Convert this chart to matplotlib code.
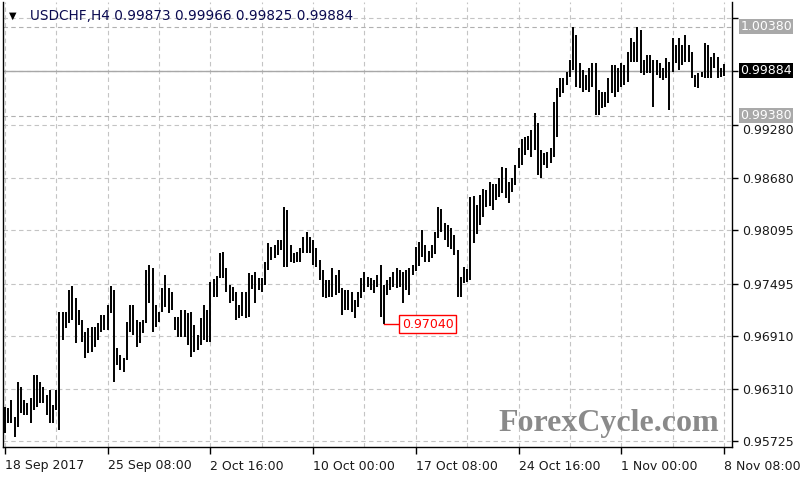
import matplotlib
matplotlib.use('Agg')
import matplotlib.pyplot as plt
import matplotlib.transforms as mtransforms

symbol = 'USDCHF,H4'
last_ohlc = [0.99873, 0.99966, 0.99825, 0.99884]

# H4 bar highs/lows, 18 Sep 2017 00:00 -> 8 Nov 2017 08:00
highs = [
    0.96107, 0.96096, 0.96186, 0.95995, 0.96388, 0.96332, 0.96186, 0.96152, 0.96208, 0.96467,
    0.96467, 0.96388, 0.96332, 0.96242, 0.96298, 0.96130, 0.96298, 0.97175, 0.97175, 0.97175,
    0.97422, 0.97467, 0.97332, 0.97197, 0.97085, 0.96950, 0.96995, 0.97006, 0.97006, 0.97051,
    0.97141, 0.97141, 0.97254, 0.97467, 0.97422, 0.96770, 0.96692, 0.96658, 0.97063, 0.97254,
    0.97254, 0.97085, 0.97063, 0.97085, 0.97647, 0.97703, 0.97670, 0.97254, 0.97175, 0.97445,
    0.97591, 0.97445, 0.97400, 0.97119, 0.97119, 0.97197, 0.97197, 0.97164, 0.97175, 0.97029,
    0.96916, 0.97108, 0.97254, 0.97197, 0.97512, 0.97546, 0.97580, 0.97838, 0.97849, 0.97670,
    0.97478, 0.97456, 0.97400, 0.97254, 0.97400, 0.97400, 0.97613, 0.97591, 0.97625, 0.97557,
    0.97557, 0.97737, 0.97951, 0.97906, 0.97928, 0.97984, 0.97984, 0.98355, 0.98321, 0.97928,
    0.97838, 0.97849, 0.97894, 0.98018, 0.98074, 0.98018, 0.97984, 0.97894, 0.97759, 0.97647,
    0.97535, 0.97535, 0.97670, 0.97591, 0.97647, 0.97445, 0.97422, 0.97422, 0.97400, 0.97310,
    0.97400, 0.97557, 0.97625, 0.97568, 0.97557, 0.97535, 0.97591, 0.97703, 0.97478, 0.97535,
    0.97568, 0.97625, 0.97670, 0.97647, 0.97625, 0.97647, 0.97670, 0.97703, 0.97906, 0.97962,
    0.98097, 0.97928, 0.97861, 0.97928, 0.98074, 0.98355, 0.98333, 0.98175, 0.98153, 0.98119,
    0.98040, 0.97872, 0.97568, 0.97681, 0.97658, 0.98468, 0.98479, 0.98378, 0.98490, 0.98558,
    0.98546, 0.98636, 0.98614, 0.98614, 0.98681, 0.98805, 0.98794, 0.98636, 0.98681, 0.98827,
    0.99018, 0.99120, 0.99142, 0.99153, 0.99221, 0.99412, 0.99299, 0.98996, 0.98962, 0.98973,
    0.99018, 0.99535, 0.99693, 0.99805, 0.99805, 0.99873, 1.00007, 1.00380, 1.00288, 0.99974,
    0.99895, 0.99839, 0.99918, 0.99974, 0.99974, 0.99670, 0.99648, 0.99648, 0.99805, 0.99951,
    0.99951, 0.99918, 0.99974, 0.99951, 1.00097, 1.00255, 1.00210, 1.00380, 1.00345, 1.00007,
    1.00064, 1.00064, 1.00007, 1.00007, 0.99974, 0.99918, 1.00030, 0.99985, 1.00255, 1.00176,
    1.00255, 1.00176, 1.00288, 1.00176, 1.00097, 0.99839, 0.99861, 0.99873, 1.00199, 1.00176,
    1.00041, 1.00086, 1.00041, 0.99918, 0.99966,
]
lows = [
    0.95815, 0.95927, 0.95927, 0.95770, 0.95882, 0.96040, 0.96017, 0.96017, 0.95927, 0.96073,
    0.96107, 0.96152, 0.96152, 0.96017, 0.95927, 0.95927, 0.96073, 0.95849, 0.96860, 0.96995,
    0.97051, 0.97085, 0.96827, 0.97029, 0.96838, 0.96658, 0.96714, 0.96725, 0.96782, 0.96860,
    0.96950, 0.96973, 0.96973, 0.97164, 0.96388, 0.96579, 0.96523, 0.96501, 0.96635, 0.96950,
    0.96916, 0.96782, 0.96827, 0.96939, 0.97051, 0.97276, 0.96950, 0.97006, 0.97063, 0.97175,
    0.97231, 0.97164, 0.97197, 0.96973, 0.96894, 0.96894, 0.96894, 0.96804, 0.96669, 0.96725,
    0.96748, 0.96804, 0.96860, 0.96838, 0.96838, 0.97344, 0.97344, 0.97557, 0.97557, 0.97400,
    0.97276, 0.97299, 0.97085, 0.97108, 0.97130, 0.97108, 0.97119, 0.97434, 0.97276, 0.97422,
    0.97400, 0.97478, 0.97647, 0.97759, 0.97782, 0.97816, 0.97872, 0.97681, 0.97681, 0.97737,
    0.97726, 0.97737, 0.97737, 0.97838, 0.97838, 0.97838, 0.97703, 0.97681, 0.97535, 0.97344,
    0.97332, 0.97344, 0.97344, 0.97366, 0.97389, 0.97141, 0.97197, 0.97197, 0.97175, 0.97108,
    0.97231, 0.97332, 0.97400, 0.97456, 0.97422, 0.97389, 0.97456, 0.97119, 0.97040, 0.97366,
    0.97422, 0.97456, 0.97445, 0.97456, 0.97276, 0.97422, 0.97366, 0.97591, 0.97636, 0.97692,
    0.97793, 0.97737, 0.97737, 0.97782, 0.97827, 0.98007, 0.98074, 0.97984, 0.97906, 0.97883,
    0.97816, 0.97344, 0.97344, 0.97501, 0.97512, 0.97535, 0.97951, 0.98052, 0.98153, 0.98243,
    0.98355, 0.98366, 0.98321, 0.98434, 0.98468, 0.98513, 0.98456, 0.98400, 0.98524, 0.98602,
    0.98794, 0.98827, 0.98940, 0.98996, 0.98917, 0.98996, 0.98715, 0.98681, 0.98827, 0.98794,
    0.98850, 0.98917, 0.99142, 0.99592, 0.99637, 0.99726, 0.99816, 0.99895, 0.99704, 0.99693,
    0.99648, 0.99670, 0.99648, 0.99704, 0.99389, 0.99389, 0.99468, 0.99479, 0.99524, 0.99637,
    0.99592, 0.99648, 0.99704, 0.99726, 0.99760, 0.99985, 0.99985, 0.99985, 0.99861, 0.99839,
    0.99861, 0.99861, 0.99479, 0.99839, 0.99805, 0.99783, 0.99805, 0.99445, 0.99873, 0.99974,
    0.99895, 0.99951, 0.99985, 0.99985, 0.99805, 0.99704, 0.99693, 0.99816, 0.99805, 0.99805,
    0.99805, 0.99918, 0.99805, 0.99816, 0.99825,
]

date_ticks = [0, 32, 64, 96, 128, 160, 192, 224]
date_labels = ['18 Sep 2017', '25 Sep 08:00', '2 Oct 16:00', '10 Oct 00:00',
               '17 Oct 08:00', '24 Oct 16:00', '1 Nov 00:00', '8 Nov 08:00']
price_ticks = [0.95725, 0.96310, 0.96910, 0.97495, 0.98095, 0.98680, 0.99280, 0.99880, 1.00475]
# last two sit under the price boxes on the right, so they are left blank
price_labels = ['0.95725', '0.96310', '0.96910', '0.97495', '0.98095', '0.98680',
                '0.99280', '', '']

resistance = 1.00380
support = 0.99380
last_price = 0.99884
low_bar = 118
low_price = 0.97040

fig = plt.figure(figsize=(8, 4.8), dpi=100)
ax = fig.add_axes([3 / 800, 33 / 480, 729 / 800, 445 / 480])

ax.set_xlim(-0.6, 226.5)
ax.set_ylim(0.95658, 1.00659)

# grid
ax.set_xticks(range(0, 225, 16), minor=True)
ax.set_xticks(date_ticks)
ax.set_xticklabels(date_labels)
ax.set_yticks(price_ticks)
ax.set_yticklabels(price_labels)
ax.grid(True, which='both', color='#c4c4c4', linestyle=(0, (4, 3)), lw=0.8)
ax.set_axisbelow(True)

ax.tick_params(axis='x', which='major', length=5, width=1, pad=4, labelsize=9,
               labelcolor='#1a1a1a')
ax.tick_params(axis='x', which='minor', length=0)
ax.tick_params(axis='y', length=4, width=1, pad=3, labelsize=9, labelcolor='#1a1a1a',
               left=False, labelleft=False, right=True, labelright=True)
for lbl in ax.get_xticklabels():
    lbl.set_ha('left')
# 0.99280 sits just under the support box, nudge it down a little
shift = mtransforms.ScaledTranslation(0, -3 / 72, fig.dpi_scale_trans)
ylbl = ax.get_yticklabels(which='major')[6]
ylbl.set_transform(ylbl.get_transform() + shift)
for sp in ax.spines.values():
    sp.set_linewidth(1)
    sp.set_color('black')
ax.spines['top'].set_visible(False)

# level lines
ax.axhline(resistance, color='#b0b0b0', linestyle=(0, (4, 3)), lw=0.8, zorder=1)
ax.axhline(support, color='#b0b0b0', linestyle=(0, (4, 3)), lw=0.8, zorder=1)
ax.axhline(last_price, color='#a8a8a8', lw=1, zorder=1)

# bars
ax.vlines(range(len(highs)), lows, highs, color='black', lw=1.4, zorder=3)

# low marker
ax.plot([low_bar, 123.2], [low_price, low_price], color='red', lw=1, zorder=4)
ax.text(123.6, low_price, '%.5f' % low_price, color='red', fontsize=9, va='center', ha='left',
        zorder=5, bbox=dict(boxstyle='square,pad=0.18', fc='white', ec='red', lw=1))

# right axis boxes
trans = mtransforms.blended_transform_factory(ax.transAxes, ax.transData)
for val, fc in [(resistance, '#a9a9a9'), (support, '#a9a9a9'), (last_price, 'black')]:
    ax.text(1.0115, val, '%.5f' % val, transform=trans, color='white', fontsize=9,
            va='center', ha='left', clip_on=False, zorder=6,
            bbox=dict(boxstyle='square,pad=0.08', fc=fc, ec='none'))

# header and watermark
fig.text(9 / 800, 1 - 16 / 480, '\u25bc', fontsize=7, color='black', va='center')
fig.text(30 / 800, 1 - 16 / 480, '%s %.5f %.5f %.5f %.5f' % (symbol, *last_ohlc),
         fontsize=9.8, color='#0a0a50', va='center')
fig.text(498 / 800, 1 - 423 / 480, 'ForexCycle.com', family='Liberation Serif',
         weight='bold', fontsize=23, color='#8a8a8a', va='center')

fig.savefig('out.png', dpi=100)
